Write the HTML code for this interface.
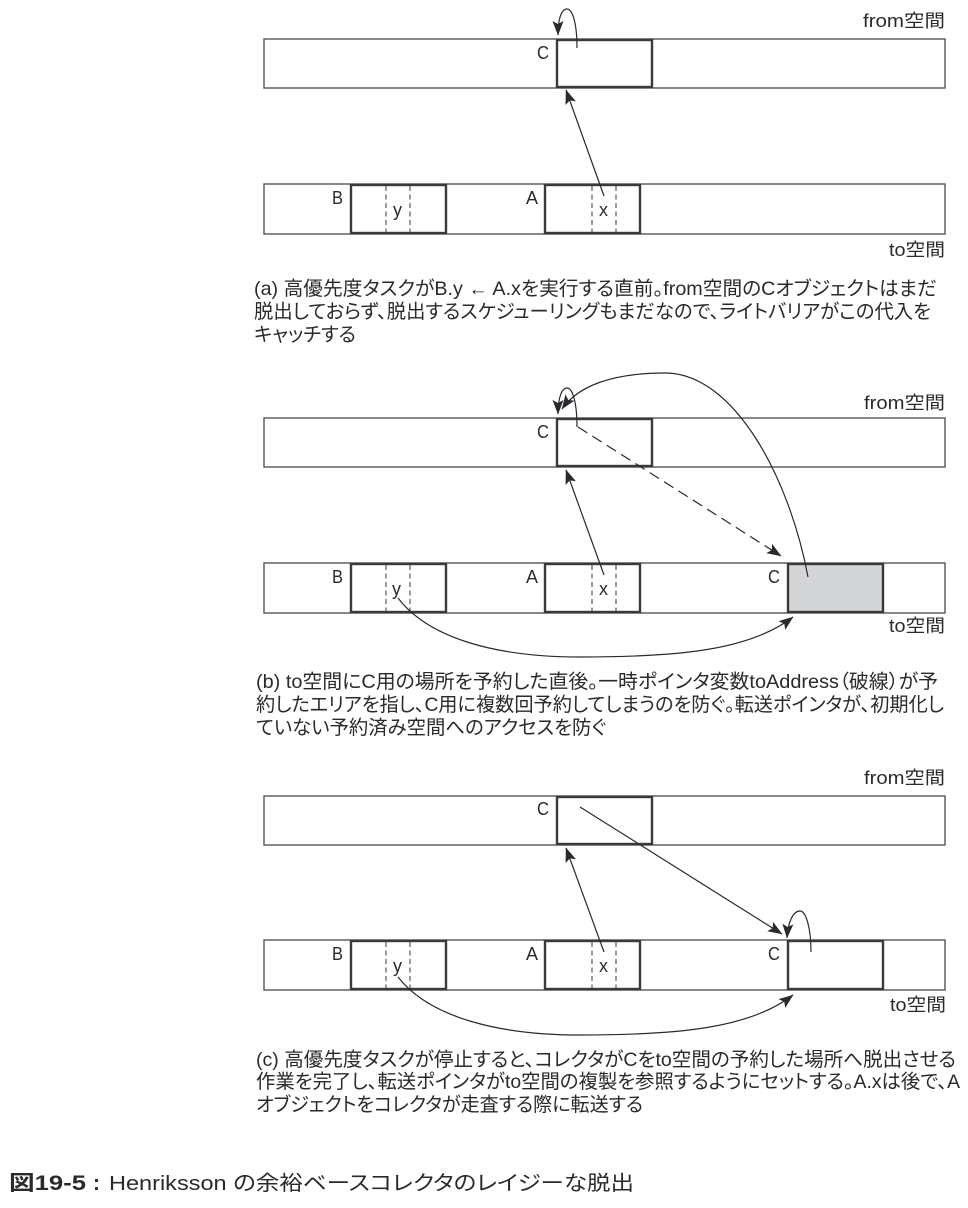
<!DOCTYPE html>
<html lang="ja">
<head>
<meta charset="utf-8">
<style>
html,body{margin:0;padding:0;background:#fff}
svg{display:block}
text{font-family:"Liberation Sans","Noto Sans CJK JP",sans-serif;fill:#2a2a2c;font-feature-settings:"palt"}
.bar{fill:#fff;stroke:#555;stroke-width:1.4}
.box{fill:#fff;stroke:#3a3a3e;stroke-width:2.4}
.gray{fill:#d4d5d7;stroke:#3a3a3e;stroke-width:2.4}
.dash{stroke:#3a3a3e;stroke-width:1;stroke-dasharray:5 3.5;fill:none}
.ln{stroke:#2a2a2e;stroke-width:1.2;fill:none}
.ah{fill:#2a2a2e;stroke:none}
.lab{font-size:18px}
.sp{font-size:18px}
.cap{font-size:19.5px}
</style>
</head>
<body>
<svg width="968" height="1208" viewBox="0 0 968 1208" xmlns="http://www.w3.org/2000/svg">
<defs>
<marker id="a" markerWidth="16" markerHeight="12" refX="14" refY="6" orient="auto" markerUnits="userSpaceOnUse">
<path class="ah" d="M0,0.5 L14.5,6 L0,11.5 L3,6 Z"/>
</marker>
</defs>

<!-- (a) -->
<text class="sp" x="863" y="27" textLength="82" lengthAdjust="spacingAndGlyphs">from空間</text>
<rect class="bar" x="264" y="39" width="681" height="49"/>
<rect class="box" x="557" y="40" width="95" height="47"/>
<text class="lab" x="537" y="59" textLength="12" lengthAdjust="spacingAndGlyphs">C</text>
<path class="ln" d="M577,48 C577,25 573,9 567,9 C561,9 558,20 558,35" marker-end="url(#a)"/>
<rect class="bar" x="264" y="184" width="681" height="50"/>
<rect class="box" x="351" y="185" width="95" height="48"/>
<rect class="box" x="545" y="185" width="95" height="48"/>
<line class="dash" x1="386" y1="186" x2="386" y2="232"/>
<line class="dash" x1="410" y1="186" x2="410" y2="232"/>
<line class="dash" x1="592" y1="186" x2="592" y2="232"/>
<line class="dash" x1="616" y1="186" x2="616" y2="232"/>
<text class="lab" x="332" y="204" textLength="11" lengthAdjust="spacingAndGlyphs">B</text>
<text class="lab" x="526" y="204" textLength="12" lengthAdjust="spacingAndGlyphs">A</text>
<text class="lab" x="393" y="216">y</text>
<text class="lab" x="599" y="216">x</text>
<line class="ln" x1="604" y1="196" x2="566" y2="90" marker-end="url(#a)"/>
<text class="sp" x="889" y="256" textLength="56" lengthAdjust="spacingAndGlyphs">to空間</text>
<text class="cap" x="254" y="295" textLength="683" lengthAdjust="spacingAndGlyphs">(a) 高優先度タスクがB.y ← A.xを実行する直前。from空間のCオブジェクトはまだ</text>
<text class="cap" x="254" y="318" textLength="677" lengthAdjust="spacingAndGlyphs">脱出しておらず、脱出するスケジューリングもまだなので、ライトバリアがこの代入を</text>
<text class="cap" x="254" y="341" textLength="102" lengthAdjust="spacingAndGlyphs">キャッチする</text>

<!-- (b) -->
<text class="sp" x="864" y="409" textLength="81" lengthAdjust="spacingAndGlyphs">from空間</text>
<rect class="bar" x="264" y="418" width="681" height="49"/>
<rect class="box" x="557" y="419" width="95" height="47"/>
<text class="lab" x="537" y="438" textLength="12" lengthAdjust="spacingAndGlyphs">C</text>
<rect class="bar" x="264" y="563" width="681" height="50"/>
<rect class="box" x="351" y="564" width="95" height="48"/>
<rect class="box" x="545" y="564" width="95" height="48"/>
<rect class="gray" x="788" y="564" width="95" height="48"/>
<line class="dash" x1="386" y1="565" x2="386" y2="611"/>
<line class="dash" x1="410" y1="565" x2="410" y2="611"/>
<line class="dash" x1="592" y1="565" x2="592" y2="611"/>
<line class="dash" x1="616" y1="565" x2="616" y2="611"/>
<path class="ln" d="M577,427 C577,404 573,388 567,388 C561,388 558,400 558,414" marker-end="url(#a)"/>
<path class="ln" d="M808,577 C790,480 735,373 665,373 C612,373 578,386 562,409" marker-end="url(#a)"/>
<line class="ln" x1="578" y1="427" x2="781" y2="556" stroke-dasharray="11 6" marker-end="url(#a)"/>
<text class="lab" x="332" y="583" textLength="11" lengthAdjust="spacingAndGlyphs">B</text>
<text class="lab" x="526" y="583" textLength="12" lengthAdjust="spacingAndGlyphs">A</text>
<text class="lab" x="768" y="583" textLength="12" lengthAdjust="spacingAndGlyphs">C</text>
<text class="lab" x="392" y="595">y</text>
<text class="lab" x="599" y="595">x</text>
<line class="ln" x1="604" y1="575" x2="566" y2="470" marker-end="url(#a)"/>
<path class="ln" d="M398,598 C430,640 500,657 580,657 C680,657 750,650 793,617" marker-end="url(#a)"/>
<text class="sp" x="889" y="632" textLength="56" lengthAdjust="spacingAndGlyphs">to空間</text>
<text class="cap" x="256" y="688" textLength="682" lengthAdjust="spacingAndGlyphs">(b) to空間にC用の場所を予約した直後。一時ポインタ変数toAddress（破線）が予</text>
<text class="cap" x="256" y="711" textLength="688" lengthAdjust="spacingAndGlyphs">約したエリアを指し、C用に複数回予約してしまうのを防ぐ。転送ポインタが、初期化し</text>
<text class="cap" x="256" y="734" textLength="350" lengthAdjust="spacingAndGlyphs">ていない予約済み空間へのアクセスを防ぐ</text>

<!-- (c) -->
<text class="sp" x="864" y="784" textLength="81" lengthAdjust="spacingAndGlyphs">from空間</text>
<rect class="bar" x="264" y="796" width="681" height="49"/>
<rect class="box" x="557" y="797" width="95" height="47"/>
<text class="lab" x="537" y="815" textLength="12" lengthAdjust="spacingAndGlyphs">C</text>
<rect class="bar" x="264" y="940" width="681" height="50"/>
<rect class="box" x="351" y="941" width="95" height="48"/>
<rect class="box" x="545" y="941" width="95" height="48"/>
<rect class="box" x="788" y="941" width="95" height="48"/>
<line class="dash" x1="386" y1="942" x2="386" y2="988"/>
<line class="dash" x1="410" y1="942" x2="410" y2="988"/>
<line class="dash" x1="592" y1="942" x2="592" y2="988"/>
<line class="dash" x1="616" y1="942" x2="616" y2="988"/>
<line class="ln" x1="580" y1="807" x2="782" y2="934" marker-end="url(#a)"/>
<text class="lab" x="332" y="960" textLength="11" lengthAdjust="spacingAndGlyphs">B</text>
<text class="lab" x="526" y="960" textLength="12" lengthAdjust="spacingAndGlyphs">A</text>
<text class="lab" x="768" y="960" textLength="12" lengthAdjust="spacingAndGlyphs">C</text>
<text class="lab" x="393" y="972">y</text>
<text class="lab" x="599" y="972">x</text>
<line class="ln" x1="604" y1="952" x2="566" y2="848" marker-end="url(#a)"/>
<path class="ln" d="M811,952 C811,928 806,911 800,911 C793,911 788,922 787,938" marker-end="url(#a)"/>
<path class="ln" d="M398,977 C430,1018 500,1035 580,1035 C680,1035 750,1028 793,995" marker-end="url(#a)"/>
<text class="sp" x="890" y="1011" textLength="56" lengthAdjust="spacingAndGlyphs">to空間</text>
<text class="cap" x="256" y="1066" textLength="700" lengthAdjust="spacingAndGlyphs">(c) 高優先度タスクが停止すると、コレクタがCをto空間の予約した場所へ脱出させる</text>
<text class="cap" x="256" y="1088" textLength="704" lengthAdjust="spacingAndGlyphs">作業を完了し、転送ポインタがto空間の複製を参照するようにセットする。A.xは後で、A</text>
<text class="cap" x="256" y="1111" textLength="387" lengthAdjust="spacingAndGlyphs">オブジェクトをコレクタが走査する際に転送する</text>

<!-- caption -->
<text x="9" y="1190" font-size="21" font-weight="700" textLength="77" lengthAdjust="spacingAndGlyphs">図19-5</text>
<text x="93" y="1190" font-size="21" font-weight="700">:</text>
<text x="109" y="1190" font-size="20.5" textLength="525" lengthAdjust="spacingAndGlyphs">Henriksson の余裕ベースコレクタのレイジーな脱出</text>
</svg>
</body>
</html>
